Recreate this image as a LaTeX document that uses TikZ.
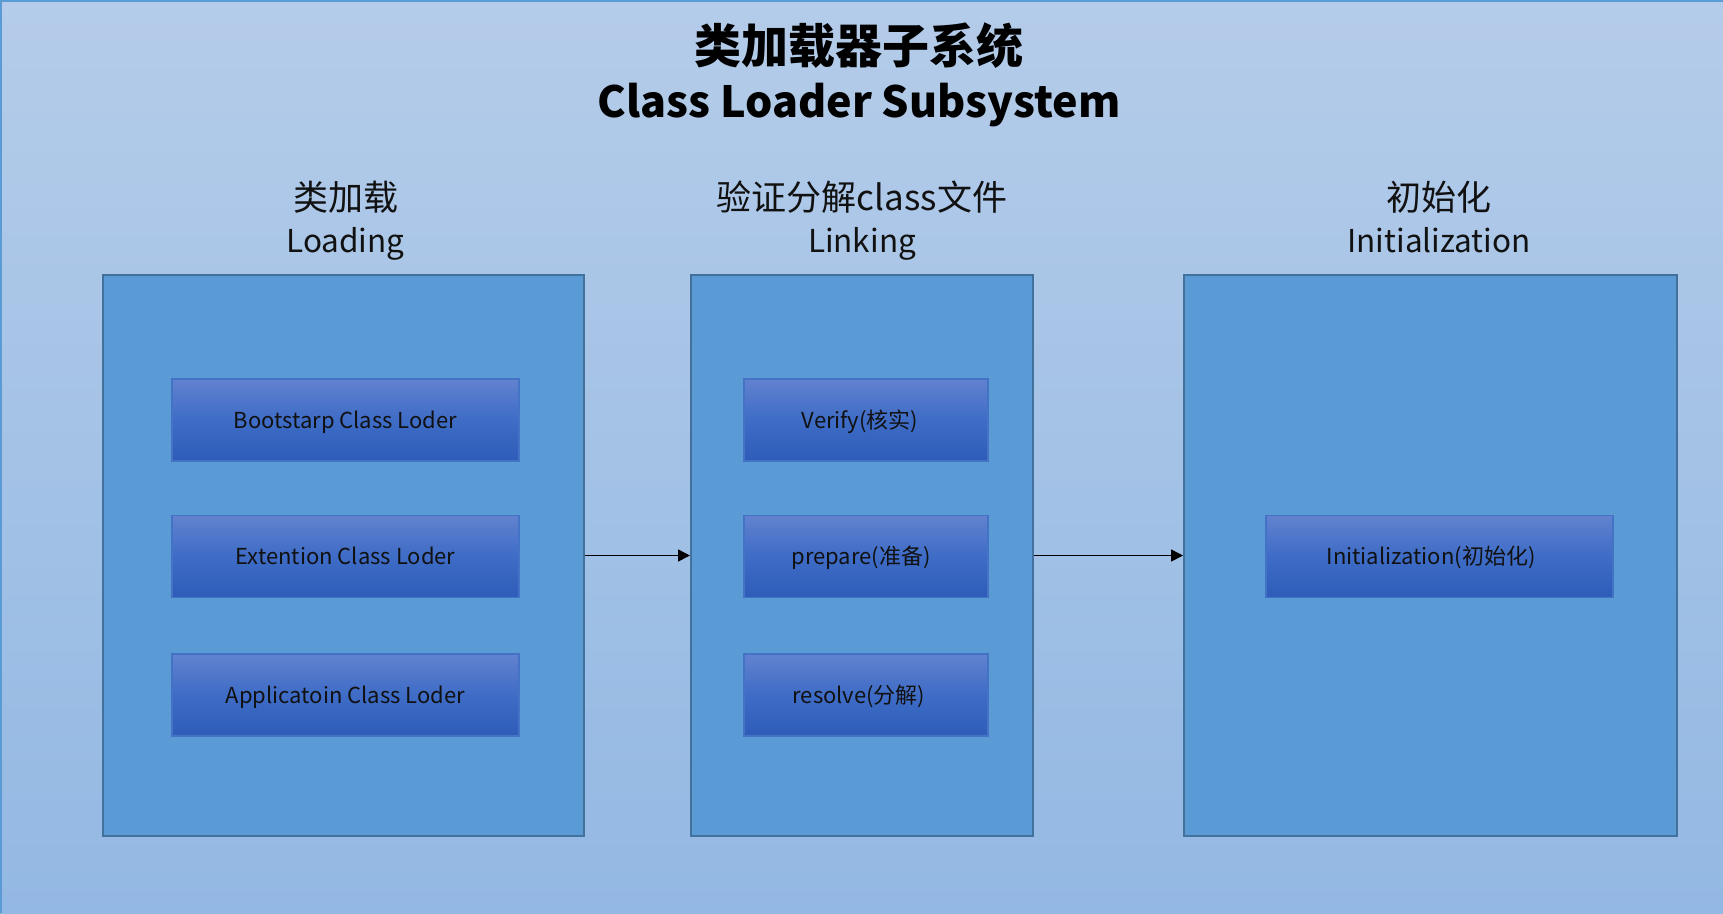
\documentclass[tikz,border=0pt]{standalone}
\usepackage{fontspec}
\setmainfont{Noto Sans CJK SC}
\usetikzlibrary{arrows.meta}
\definecolor{bgtop}{HTML}{B4CCE9}
\definecolor{bgbot}{HTML}{93B8E3}
\definecolor{pageedge}{HTML}{5B9BD5}
\definecolor{outerfill}{HTML}{5B9BD5}
\definecolor{outerline}{HTML}{41719C}
\definecolor{innertop}{HTML}{6282CF}
\definecolor{innermid}{HTML}{3E6CC6}
\definecolor{innerbot}{HTML}{2D5DB9}
\definecolor{innerline}{HTML}{4472C4}
\definecolor{ink}{HTML}{111111}
\begin{document}
\begin{tikzpicture}[x=1pt,y=-1pt,
  outerbox/.style={draw=outerline,fill=outerfill,line width=2pt,inner sep=0pt,minimum height=561pt},
  innerbox/.style={draw=innerline,line width=1.2pt,top color=innertop,bottom color=innerbot,middle color=innermid,
     inner sep=0pt,minimum height=82pt,text height=16pt,text depth=0pt,text=ink,font=\fontsize{22}{25}\selectfont},
  titlecn/.style={anchor=base,text=black,font=\fontsize{47}{50}\selectfont\bfseries},
  titleen/.style={anchor=base,text=black,font=\fontsize{43}{46}\selectfont\bfseries},
  headcn/.style={anchor=base,text=ink,font=\fontsize{35}{38}\selectfont},
  heademn/.style={anchor=base,text=ink,font=\fontsize{31.5}{34}\selectfont},
  arr/.style={draw=black,line width=1.5pt,-{Triangle[length=12pt,width=12pt]}}]
\useasboundingbox (0,0) rectangle (1723,913);
\shade[top color=bgtop,bottom color=bgbot] (0,0) rectangle (1723,913);
\draw[pageedge,line width=2.5pt] (1,913) -- (1,1) -- (1723,1);

% titles
\node[titlecn] (t1) at (859,63) {类加载器子系统};
\node[titleen] (t2) at (859,117) {Class Loader Subsystem};

% headings
\node[headcn] (h1a) at (345.5,210) {类加载};
\node[heademn] (h1b) at (345.5,252) {Loading};
\node[headcn] (h2a) at (862,210) {验证分解class文件};
\node[heademn] (h2b) at (862,252) {Linking};
\node[headcn] (h3a) at (1439,210) {初始化};
\node[heademn] (h3b) at (1439,252) {Initialization};

% outer boxes
\node[outerbox,minimum width=481pt] (L1) at (343.5,555.5) {};
\node[outerbox,minimum width=342pt] (L2) at (862,555.5) {};
\node[outerbox,minimum width=493pt] (L3) at (1430.5,555.5) {};

% inner boxes
\node[innerbox,minimum width=347pt] (b1) at (345.5,420) {Bootstarp Class Loder};
\node[innerbox,minimum width=347pt] (b2) at (345.5,556.5) {Extention Class Loder};
\node[innerbox,minimum width=347pt] (b3) at (345.5,695) {Applicatoin Class Loder};
\node[innerbox,minimum width=244pt] (m1) at (866,420) {\hspace*{-12pt}Verify(核实)};
\node[innerbox,minimum width=244pt] (m2) at (866,556.5) {\hspace*{-10pt}prepare(准备)};
\node[innerbox,minimum width=244pt] (m3) at (866,695) {\hspace*{-14pt}resolve(分解)};
\node[innerbox,minimum width=347pt] (r1) at (1439.5,556.5) {\hspace*{-17pt}Initialization(初始化)};

% connectors
\draw[arr] (L1) -- (L2);
\draw[arr] (L2) -- (L3);
\end{tikzpicture}
\end{document}
